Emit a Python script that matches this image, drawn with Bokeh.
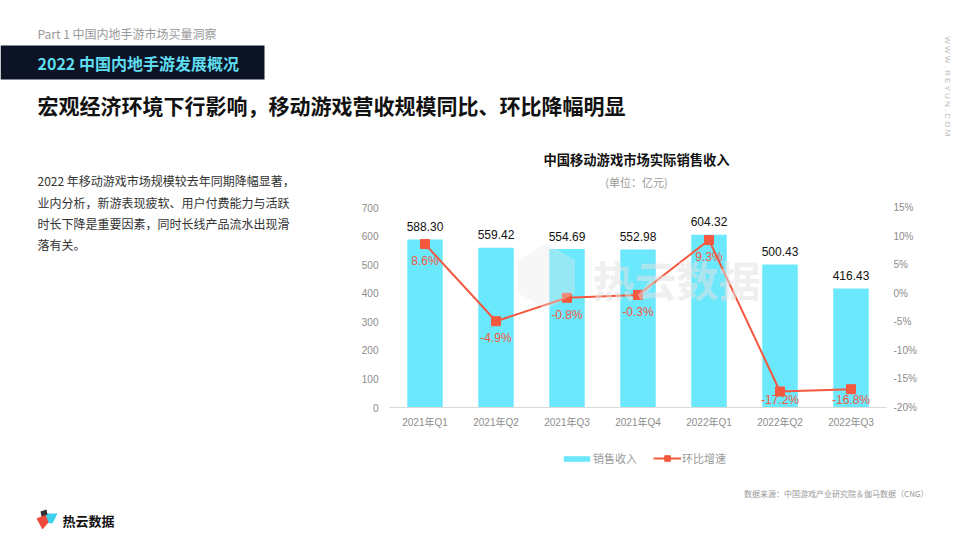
import math
from bokeh.plotting import figure
from bokeh.layouts import column, row
from bokeh.models import (ColumnDataSource, FactorRange, Range1d, LinearAxis, LabelSet, Label,
                          PolyAnnotation, Legend, LegendItem, FixedTicker, PrintfTickFormatter)
from bokeh.core.properties import value
from bokeh.embed import file_html
from bokeh.resources import INLINE

# ---------------- data ----------------
categories = ["2021年Q1", "2021年Q2", "2021年Q3", "2021年Q4", "2022年Q1", "2022年Q2", "2022年Q3"]
revenue = [588.30, 559.42, 554.69, 552.98, 604.32, 500.43, 416.43]
growth = [8.6, -4.9, -0.8, -0.3, 9.3, -17.2, -16.8]
left_ticks = [0, 100, 200, 300, 400, 500, 600, 700]
right_ticks = [-20, -15, -10, -5, 0, 5, 10, 15]
series_names = ["销售收入", "环比增速"]

CJK = "Noto Sans CJK SC"
NUM = "Liberation Sans"
MIX = "Liberation Sans, Noto Sans CJK SC"
BAR = "#6BE8FC"
RED = "#F4583E"
GRAY = "#8c8c8c"

# ---------------- helpers ----------------
def deco_fig(x0, x1, y0, y1):
    f = figure(width=x1 - x0, height=y1 - y0, x_range=Range1d(x0, x1), y_range=Range1d(y1, y0),
               x_axis_type=None, y_axis_type=None, output_backend="svg", toolbar_location=None,
               min_border_left=0, min_border_right=0, min_border_top=0, min_border_bottom=0)
    f.outline_line_color = None
    f.background_fill_color = "white"
    f.border_fill_color = "white"
    return f


def txt(f, text, x, y, size, color, bold=False, font=CJK, align="left", angle=0.0, alpha=1.0,
        units="data"):
    f.add_layout(Label(x=x, y=y, x_units=units, y_units=units, text=text, text_font=font,
                       text_font_size=f"{size}px", text_color=color,
                       text_font_style="bold" if bold else "normal", text_align=align,
                       text_baseline="middle", angle=angle, text_alpha=alpha))


# ---------------- header (y 0..140) ----------------
hdr = deco_fig(0, 952, 0, 140)
hdr.quad(left=0, right=264, top=45, bottom=79, fill_color="#0c1324", line_color=None)
txt(hdr, "Part 1  中国内地手游市场买量洞察", 37, 33, 12, "#999999")
txt(hdr, "2022 中国内地手游发展概况", 37, 62, 16, "#5fdcef", bold=True)
txt(hdr, "宏观经济环境下行影响，移动游戏营收规模同比、环比降幅明显", 37, 104, 21, "#111111", bold=True)
txt(hdr, "W W W . R E Y U N . C O M", 947, 86, 8, "#bbbbbb", font=NUM, align="center",
    angle=-math.pi / 2)

# ---------------- left text column (x 0..351, y 140..432) ----------------
left = deco_fig(0, 351, 140, 432)
body = ["2022 年移动游戏市场规模较去年同期降幅显著，",
        "业内分析，新游表现疲软、用户付费能力与活跃",
        "时长下降是重要因素，同时长线产品流水出现滑",
        "落有关。"]
for i, t in enumerate(body):
    txt(left, t, 37, 184 + i * 23.3, 12, "#333333")

# ---------------- chart (x 351..952, y 140..432) ----------------
CW, CH = 601, 292
FL, FR, FT, FB = 38, 66, 0, 25          # borders -> frame 497 x 267
frame_h = CH - FT - FB
px_per_unit = 200 / 700                 # 700 spans 200 px
px_per_pct = 200 / 35                   # 35 percentage points span 200 px
y_top = frame_h / px_per_unit
pct_top = -20 + frame_h / px_per_pct

g_off = [-min(17, (g + 20) * px_per_pct - 8) for g in growth]
src = ColumnDataSource(dict(
    cat=categories, rev=revenue, g=growth, g_off=g_off,
    rev_lbl=[f"{v:.2f}" for v in revenue],
    g_lbl=[f"{v}%" for v in growth],
))

p = figure(width=CW, height=CH, x_range=FactorRange(*categories), y_range=Range1d(0, y_top),
           output_backend="svg", toolbar_location=None,
           min_border_left=FL, min_border_right=FR, min_border_top=FT, min_border_bottom=FB)
p.outline_line_color = None
p.xgrid.visible = False
p.ygrid.visible = False
p.background_fill_color = "white"
p.border_fill_color = "white"

ya = p.yaxis[0]
ya.ticker = FixedTicker(ticks=left_ticks)
ya.axis_line_color = None
ya.major_tick_line_color = None
ya.minor_tick_line_color = None
ya.major_tick_out = 0
ya.major_tick_in = 0
ya.major_label_text_color = GRAY
ya.major_label_text_font = NUM
ya.major_label_text_font_size = "10px"
ya.major_label_standoff = 11

p.extra_y_ranges = {"pct": Range1d(-20, pct_top)}
ra = LinearAxis(y_range_name="pct", ticker=FixedTicker(ticks=right_ticks),
                formatter=PrintfTickFormatter(format="%d%%"))
ra.axis_line_color = None
ra.major_tick_line_color = None
ra.minor_tick_line_color = None
ra.major_tick_out = 0
ra.major_tick_in = 0
ra.major_label_text_color = GRAY
ra.major_label_text_font = NUM
ra.major_label_text_font_size = "10px"
ra.major_label_standoff = 7
p.add_layout(ra, "right")

xa = p.xaxis[0]
xa.axis_line_color = "#d9d9d9"
xa.major_tick_line_color = None
xa.minor_tick_line_color = None
xa.major_tick_out = 0
xa.major_tick_in = 0
xa.major_label_text_color = GRAY
xa.major_label_text_font = MIX
xa.major_label_text_font_size = "10px"
xa.major_label_standoff = 9

p.vbar(x="cat", top="rev", width=0.5, source=src, fill_color=BAR, line_color=None)
p.line(x="cat", y="g", source=src, y_range_name="pct", line_color=RED, line_width=2)
p.scatter(x="cat", y="g", source=src, y_range_name="pct", marker="square", size=9,
          fill_color=RED, line_color=RED)

p.add_layout(LabelSet(x="cat", y="rev", text="rev_lbl", source=src, y_offset=13,
                      text_align="center", text_baseline="middle", text_font=value(NUM),
                      text_font_size="12px", text_color="#111111"))
p.add_layout(LabelSet(x="cat", y="g", text="g_lbl", source=src, y_range_name="pct",
                      y_offset="g_off", text_align="center", text_baseline="middle",
                      text_font=value(NUM), text_font_size="12px", text_color=RED))

# chart title, subtitle and faint watermark (canvas units of the chart figure)
X0, Y0 = 351, 140
txt(p, "中国移动游戏市场实际销售收入", 636 - X0, 159 - Y0, 13.3, "#111111", bold=True,
    align="center", units="canvas")
txt(p, "(单位：亿元)", 636 - X0, 181 - Y0, 11, "#999999", align="center", units="canvas")
hexa = [(546 + 33 * math.cos(math.pi / 6 + k * math.pi / 3),
         276 + 33 * math.sin(math.pi / 6 + k * math.pi / 3)) for k in range(6)]
p.add_layout(PolyAnnotation(xs=[x - X0 for x, _ in hexa], ys=[y - Y0 for _, y in hexa],
                            xs_units="canvas", ys_units="canvas", fill_color="#e8e8e8",
                            fill_alpha=0.35, line_color=None))
txt(p, "热云数据", 676 - X0, 278 - Y0, 42, "#e2e2e2", bold=True, align="center", alpha=0.55,
    units="canvas")

# ---------------- footer (y 432..529): legend, source, logo ----------------
ftr = deco_fig(0, 952, 432, 529)
FH = 529 - 432
# legend key renderers: one point placed outside the visible footer, so only the keys show
off_x, off_y = [-100], [-100]
lg_bar = ftr.vbar(x=off_x, top=off_y, width=0.5, fill_color=BAR, line_color=None)
lg_line = ftr.line(x=off_x, y=off_y, line_color=RED, line_width=2)
lg_mark = ftr.scatter(x=off_x, y=off_y, marker="square", size=9, fill_color=RED, line_color=RED)

LEG_CY = 459 - 432
leg1 = Legend(items=[LegendItem(label=series_names[0], renderers=[lg_bar])],
              location=(560, FH - LEG_CY - 7), glyph_width=33, glyph_height=7,
              label_text_font=CJK, label_text_font_size="11px", label_text_color="#999999",
              padding=0, margin=0, label_standoff=0, border_line_color=None,
              background_fill_alpha=0)
leg2 = Legend(items=[LegendItem(label=series_names[1], renderers=[lg_line, lg_mark])],
              location=(653, FH - LEG_CY - 7), glyph_width=28, glyph_height=14,
              label_text_font=CJK, label_text_font_size="11px", label_text_color="#999999",
              padding=0, margin=0, label_standoff=1, border_line_color=None,
              background_fill_alpha=0)
ftr.add_layout(leg1)
ftr.add_layout(leg2)

txt(ftr, "数据来源：中国游戏产业研究院＆伽马数据（CNG）", 928, 493, 8, "#999999", align="right")

ftr.patch([44, 57, 52, 44], [513, 513, 523, 522], fill_color="#3fd0ee", line_color=None)
ftr.patch([36, 45, 48, 42], [518, 514, 522, 529], fill_color="#ef4b3a", line_color=None)
ftr.patch([40, 46, 47, 41], [511, 509, 514, 516], fill_color="#333333", line_color=None)
txt(ftr, "热云数据", 62, 520, 13, "#111111", bold=True)

page = column(hdr, row(left, p), ftr)
open("out.html", "w").write(file_html(page, INLINE))
